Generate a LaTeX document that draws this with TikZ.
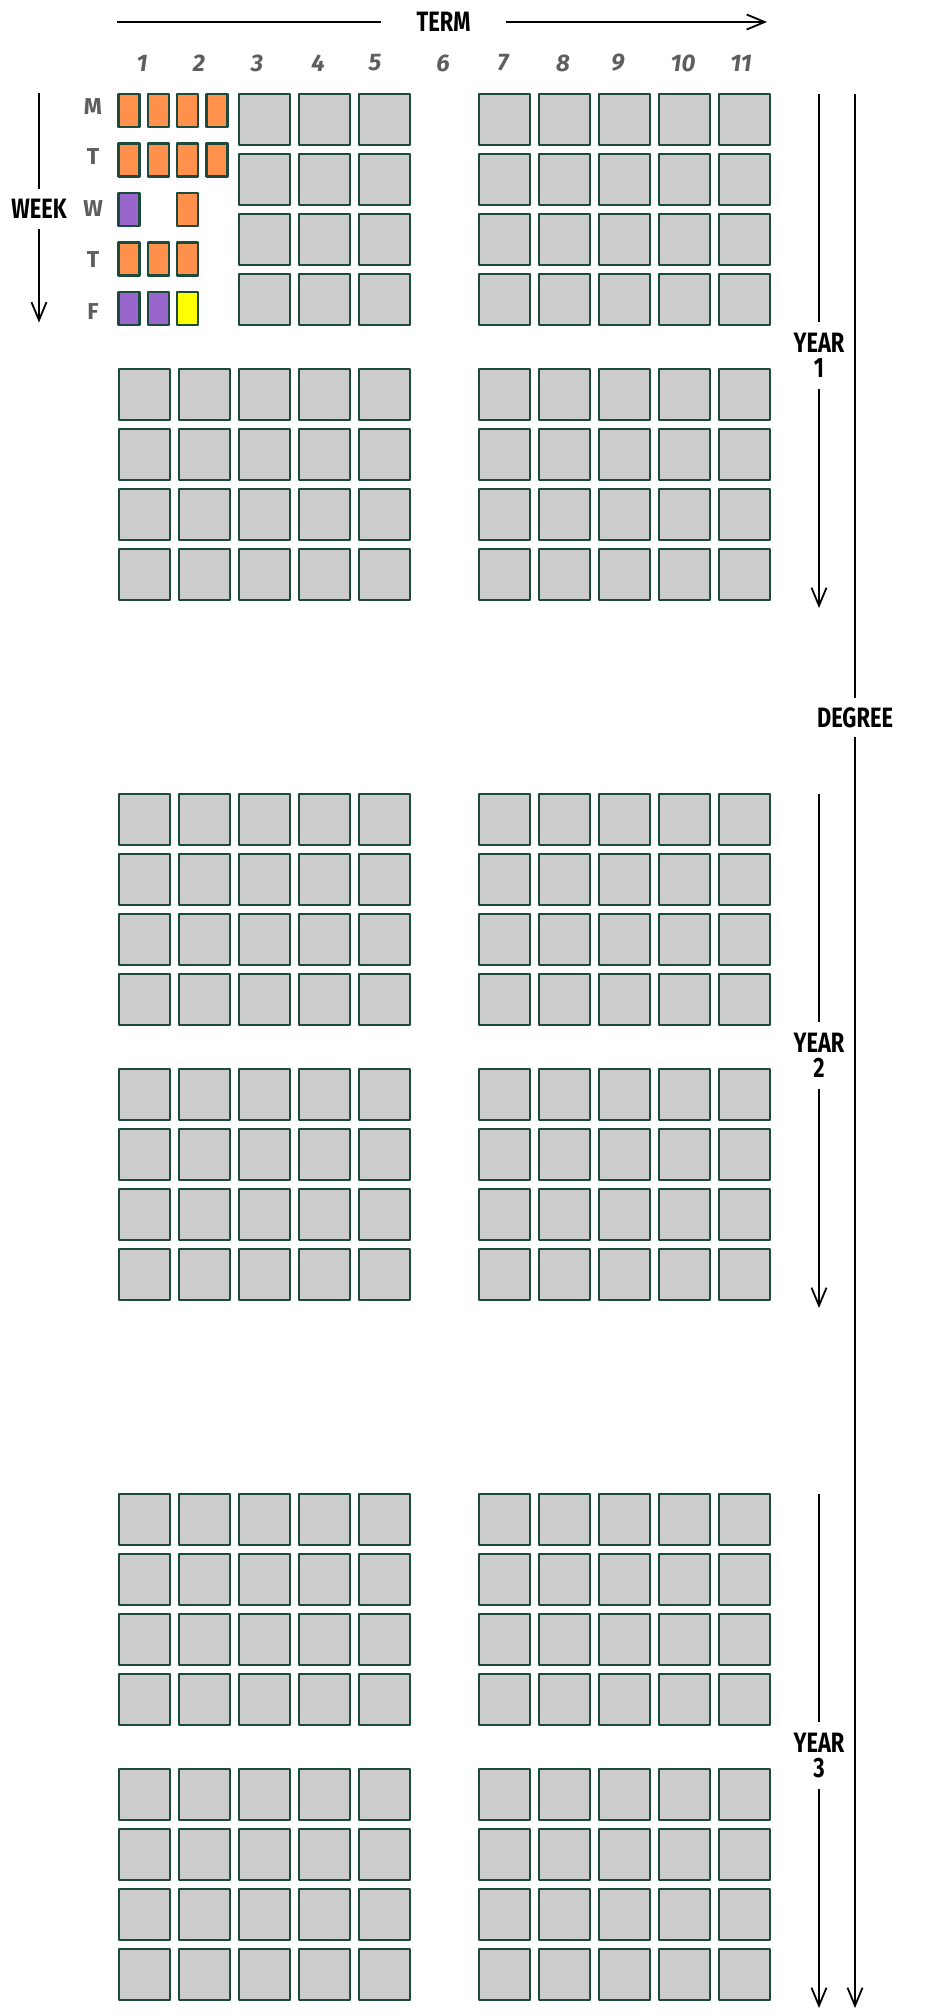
\documentclass[tikz,border=0pt]{standalone}
\usepackage{fontspec}
\setmainfont{Fira Sans}
\usetikzlibrary{arrows.meta}
\definecolor{cellgray}{HTML}{CCCCCC}
\definecolor{cellline}{HTML}{1C4B3B}
\definecolor{orng}{HTML}{FF914D}
\definecolor{purp}{HTML}{9966CC}
\definecolor{yell}{HTML}{FFFF00}
\definecolor{numgray}{HTML}{5E5E5E}
\newcommand\narrowlbl[1]{\scalebox{0.78}[1]{#1}}
\begin{document}
\begin{tikzpicture}[x=1pt,y=-1pt,
  cell/.style={draw=cellline, line width=2.6pt, line join=round, fill=cellgray},
  smallcell/.style={draw=cellline, line width=2.6pt, line join=round},
  axis/.style={draw=black, line width=1.8pt},
  tip/.style={-{Straight Barb[length=18pt,width=15pt,line width=1.8pt]}},
  biglabel/.style={font=\fontsize{28}{25}\selectfont\bfseries, align=center, inner sep=0pt},
  numlabel/.style={font=\fontsize{24}{24}\selectfont\bfseries\itshape, text=numgray, inner sep=0pt},
  daylabel/.style={font=\fontsize{23}{23}\selectfont\bfseries, text=numgray, inner sep=0pt}]

\useasboundingbox[fill=white] (0,0) rectangle (930,2016);

% big grey cells
\foreach \Y in {0,700,1400}{
  \foreach \G in {0,275}{
    \foreach \r in {0,...,3}{
      \foreach \col in {1,...,5,7,8,9,10,11}{
        \pgfmathtruncatemacro\skipit{(\Y==0)&&(\G==0)&&(\col<3)}
        \ifnum\skipit=0
          \draw[cell] ({119+(\col-1)*60},{94+\Y+\G+\r*60}) rectangle ++(51,51);
        \fi
      }
    }
  }
}

% small coloured cells (week view)
\foreach \k/\d/\fc in {0/0/orng,1/0/orng,2/0/orng,3/0/orng,
                       0/1/orng,1/1/orng,2/1/orng,3/1/orng,
                       0/2/purp,2/2/orng,
                       0/3/orng,1/3/orng,2/3/orng,
                       0/4/purp,1/4/purp,2/4/yell}{
  \draw[smallcell, fill=\fc] ({118.5+\k*29.3},{94+\d*49.5}) rectangle ++(21,33);
}

% term axis
\node[biglabel, minimum width=125pt] (term) at (443.5,22) {\narrowlbl{TERM}};
\coordinate (termstart) at (117,22);
\coordinate (termend) at (767,22);
\draw[axis] (termstart) -- (term.west);
\draw[axis,tip] (term.east) -- (termend);

% term numbers
\foreach \n/\xx in {1/142,2/199,3/257,4/318,5/375,6/443,7/503,8/563,9/618,10/683,11/741}{
  \node[numlabel] (num\n) at (\xx,63) {\n};
}

% week axis
\node[biglabel, minimum height=40pt] (week) at (39,209) {\narrowlbl{WEEK}};
\coordinate (weektop) at (39,93);
\coordinate (weekend) at (39,322.5);
\draw[axis] (weektop) -- (week.north);
\draw[axis,tip] (week.south) -- (weekend);

% day letters
\foreach \dl/\yy/\nm in {M/107/mon,T/157/tue,W/209/wed,T/260/thu,F/312/fri}{
  \node[daylabel] (\nm) at (93,\yy) {\dl};
}

% year axes
\foreach \i/\Y in {1/0,2/700,3/1400}{
  \node[biglabel, minimum height=66pt] (year\i) at (819,{355.5+\Y}) {\narrowlbl{YEAR}\\\narrowlbl{\i}};
  \coordinate (ytop\i) at (819,{94+\Y});
  \coordinate (yend\i) at (819,{608+\Y});
  \draw[axis] (ytop\i) -- (year\i.north);
  \draw[axis,tip] (year\i.south) -- (yend\i);
}

% degree axis
\node[biglabel, minimum height=39pt] (degree) at (855,717.5) {\narrowlbl{DEGREE}};
\coordinate (degtop) at (855,94);
\coordinate (degend) at (855,2008);
\draw[axis] (degtop) -- (degree.north);
\draw[axis,tip] (degree.south) -- (degend);
\end{tikzpicture}
\end{document}
